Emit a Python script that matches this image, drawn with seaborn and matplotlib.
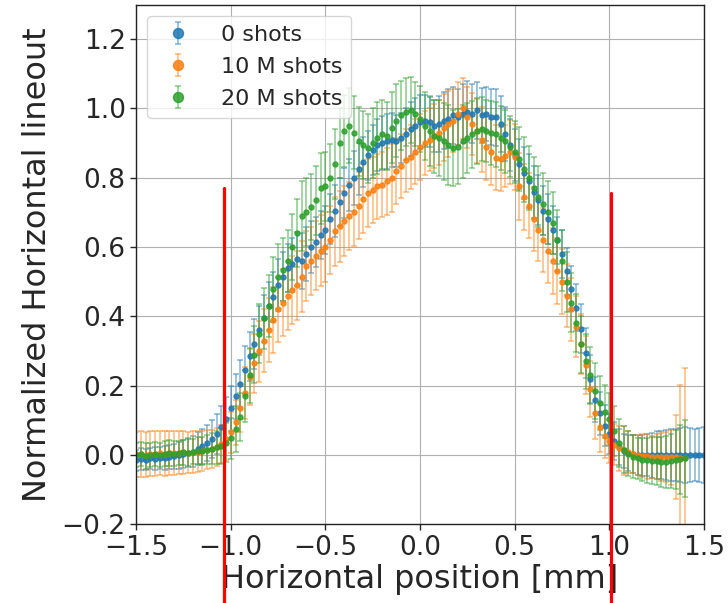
import numpy as np
import pandas as pd
import matplotlib
matplotlib.use("Agg")
import matplotlib.pyplot as plt
import seaborn as sns
from matplotlib.colors import to_rgba

# Sampling grid of the lineouts (mm)
x_start = -1.5
x_step = 0.025

series_labels = ["0 shots", "10 M shots", "20 M shots"]

# 0 shots: normalized lineout and its uncertainty (-1.5 ... 1.5 mm)
lineout_0 = [
    -0.015, -0.012, -0.014, -0.010, -0.011, -0.008, -0.009, -0.005, -0.004, -0.001,
    0.002, 0.006, 0.010, 0.018, 0.025, 0.034, 0.045, 0.060, 0.080, 0.105,
    0.135, 0.170, 0.205, 0.245, 0.285, 0.320, 0.360, 0.395, 0.430, 0.455,
    0.490, 0.515, 0.540, 0.550, 0.565, 0.560, 0.580, 0.600, 0.615, 0.635,
    0.650, 0.680, 0.705, 0.730, 0.755, 0.780, 0.800, 0.825, 0.845, 0.865,
    0.880, 0.895, 0.900, 0.905, 0.910, 0.905, 0.915, 0.925, 0.940, 0.950,
    0.960, 0.965, 0.960, 0.950, 0.955, 0.965, 0.970, 0.980, 0.975, 0.985,
    0.990, 0.985, 0.995, 0.980, 0.985, 0.975, 0.975, 0.955, 0.925, 0.895,
    0.865, 0.840, 0.815, 0.790, 0.760, 0.735, 0.705, 0.680, 0.650, 0.620,
    0.580, 0.530, 0.480, 0.425, 0.365, 0.295, 0.220, 0.160, 0.120, 0.085,
    0.060, 0.040, 0.022, 0.012, 0.006, 0.002, 0.000, -0.001, 0.000, -0.001,
    0.000, 0.000, -0.001, 0.000, 0.000, 0.000, 0.000, 0.000, 0.000, 0.000,
    0.000,
]
error_0 = [
    0.030, 0.032, 0.030, 0.031, 0.033, 0.032, 0.034, 0.035, 0.036, 0.038,
    0.040, 0.042, 0.045, 0.048, 0.050, 0.052, 0.055, 0.058, 0.060, 0.062,
    0.065, 0.065, 0.068, 0.070, 0.070, 0.072, 0.070, 0.068, 0.070, 0.072,
    0.075, 0.072, 0.070, 0.075, 0.078, 0.080, 0.078, 0.075, 0.072, 0.070,
    0.070, 0.072, 0.075, 0.070, 0.072, 0.075, 0.078, 0.075, 0.072, 0.070,
    0.072, 0.075, 0.078, 0.080, 0.078, 0.075, 0.072, 0.075, 0.078, 0.080,
    0.078, 0.075, 0.072, 0.075, 0.080, 0.082, 0.085, 0.082, 0.080, 0.085,
    0.088, 0.085, 0.082, 0.080, 0.078, 0.080, 0.082, 0.080, 0.078, 0.075,
    0.075, 0.072, 0.075, 0.078, 0.075, 0.072, 0.070, 0.072, 0.070, 0.068,
    0.070, 0.068, 0.065, 0.068, 0.070, 0.072, 0.070, 0.065, 0.062, 0.060,
    0.058, 0.055, 0.052, 0.050, 0.052, 0.055, 0.058, 0.060, 0.062, 0.065,
    0.068, 0.070, 0.072, 0.075, 0.075, 0.078, 0.080, 0.078, 0.076, 0.078,
    0.080,
]

# 10 M shots (-1.5 ... 1.4 mm)
lineout_10m = [
    0.002, 0.003, 0.001, 0.004, 0.003, 0.005, 0.004, 0.006, 0.005, 0.007,
    0.008, 0.007, 0.009, 0.010, 0.012, 0.015, 0.018, 0.024, 0.032, 0.045,
    0.065, 0.095, 0.135, 0.180, 0.225, 0.265, 0.300, 0.330, 0.360, 0.390,
    0.420, 0.440, 0.460, 0.475, 0.490, 0.515, 0.545, 0.560, 0.575, 0.590,
    0.600, 0.620, 0.645, 0.660, 0.675, 0.690, 0.700, 0.720, 0.740, 0.755,
    0.765, 0.775, 0.780, 0.790, 0.800, 0.820, 0.835, 0.850, 0.860, 0.875,
    0.890, 0.900, 0.910, 0.920, 0.930, 0.945, 0.955, 0.965, 0.985, 1.000,
    0.975, 0.955, 0.935, 0.910, 0.890, 0.875, 0.858, 0.855, 0.862, 0.875,
    0.860, 0.775, 0.745, 0.720, 0.680, 0.650, 0.620, 0.590, 0.560, 0.530,
    0.500, 0.460, 0.420, 0.370, 0.320, 0.260, 0.190, 0.120, 0.080, 0.055,
    0.040, 0.030, 0.020, 0.013, 0.008, 0.004, 0.000, -0.002, -0.004, -0.005,
    -0.005, -0.006, -0.006, -0.007, -0.006, -0.008, -0.008,
]
error_10m = [
    0.065, 0.066, 0.064, 0.066, 0.065, 0.064, 0.065, 0.063, 0.064, 0.062,
    0.062, 0.060, 0.060, 0.058, 0.058, 0.056, 0.055, 0.055, 0.056, 0.058,
    0.060, 0.065, 0.070, 0.075, 0.080, 0.085, 0.088, 0.090, 0.092, 0.095,
    0.095, 0.098, 0.100, 0.098, 0.100, 0.102, 0.100, 0.098, 0.100, 0.102,
    0.100, 0.098, 0.100, 0.102, 0.100, 0.098, 0.096, 0.098, 0.100, 0.098,
    0.096, 0.095, 0.094, 0.096, 0.098, 0.095, 0.092, 0.090, 0.092, 0.094,
    0.095, 0.092, 0.090, 0.092, 0.094, 0.096, 0.095, 0.092, 0.090, 0.088,
    0.088, 0.090, 0.092, 0.094, 0.095, 0.096, 0.094, 0.092, 0.090, 0.092,
    0.094, 0.096, 0.095, 0.094, 0.092, 0.090, 0.092, 0.094, 0.096, 0.095,
    0.094, 0.092, 0.090, 0.088, 0.086, 0.084, 0.080, 0.075, 0.070, 0.065,
    0.062, 0.060, 0.065, 0.070, 0.060, 0.055, 0.058, 0.062, 0.065, 0.060,
    0.065, 0.070, 0.072, 0.080, 0.120, 0.210, 0.260,
]

# 20 M shots (-1.5 ... 1.4 mm)
lineout_20m = [
    0.000, 0.002, -0.002, 0.001, 0.003, 0.000, 0.004, 0.005, 0.003, 0.006,
    0.008, 0.007, 0.010, 0.012, 0.011, 0.015, 0.018, 0.022, 0.026, 0.035,
    0.048, 0.075, 0.110, 0.170, 0.230, 0.290, 0.350, 0.395, 0.430, 0.480,
    0.515, 0.535, 0.560, 0.600, 0.640, 0.690, 0.700, 0.715, 0.735, 0.770,
    0.775, 0.800, 0.840, 0.900, 0.935, 0.950, 0.930, 0.905, 0.895, 0.885,
    0.900, 0.915, 0.925, 0.920, 0.945, 0.965, 0.980, 0.990, 0.995, 0.985,
    0.970, 0.950, 0.935, 0.920, 0.915, 0.905, 0.895, 0.885, 0.890, 0.905,
    0.915, 0.925, 0.935, 0.940, 0.935, 0.930, 0.925, 0.915, 0.905, 0.890,
    0.875, 0.855, 0.825, 0.800, 0.770, 0.745, 0.725, 0.700, 0.670, 0.620,
    0.560, 0.500, 0.440, 0.380, 0.320, 0.270, 0.230, 0.185, 0.150, 0.125,
    0.105, 0.070, 0.035, 0.015, 0.003, -0.005, -0.010, -0.013, -0.015, -0.017,
    -0.018, -0.020, -0.019, -0.017, -0.014, -0.012, -0.010,
]
error_20m = [
    0.036, 0.035, 0.037, 0.035, 0.034, 0.036, 0.035, 0.037, 0.036, 0.035,
    0.036, 0.038, 0.037, 0.039, 0.040, 0.042, 0.045, 0.048, 0.052, 0.056,
    0.060, 0.065, 0.070, 0.075, 0.080, 0.082, 0.085, 0.088, 0.090, 0.092,
    0.095, 0.092, 0.090, 0.095, 0.098, 0.100, 0.098, 0.095, 0.100, 0.102,
    0.100, 0.098, 0.100, 0.102, 0.105, 0.108, 0.105, 0.100, 0.098, 0.100,
    0.102, 0.105, 0.100, 0.098, 0.102, 0.105, 0.100, 0.098, 0.095, 0.092,
    0.095, 0.098, 0.102, 0.105, 0.110, 0.112, 0.115, 0.110, 0.108, 0.105,
    0.100, 0.098, 0.095, 0.092, 0.090, 0.092, 0.095, 0.092, 0.090, 0.088,
    0.090, 0.092, 0.094, 0.092, 0.090, 0.088, 0.090, 0.092, 0.090, 0.088,
    0.088, 0.086, 0.085, 0.084, 0.082, 0.080, 0.082, 0.080, 0.078, 0.076,
    0.075, 0.072, 0.070, 0.068, 0.065, 0.062, 0.060, 0.062, 0.065, 0.068,
    0.070, 0.072, 0.075, 0.078, 0.085, 0.100, 0.110,
]

# Edges of the aperture (mm) and the height of the markers
edge_positions = [-1.035, 1.01]
edge_tops = [0.771, 0.755]
edge_bottom = -0.45

x_ticks = [-1.5, -1.0, -0.5, 0.0, 0.5, 1.0, 1.5]
y_ticks = [-0.2, 0.0, 0.2, 0.4, 0.6, 0.8, 1.0, 1.2]


def make_frame(label, values, errors):
    pos = x_start + x_step * np.arange(len(values))
    return pd.DataFrame({"position": pos, "lineout": values,
                         "error": errors, "series": label})


df = pd.concat([
    make_frame(series_labels[0], lineout_0, error_0),
    make_frame(series_labels[1], lineout_10m, error_10m),
    make_frame(series_labels[2], lineout_20m, error_20m),
], ignore_index=True)

sns.set_theme(style="ticks", rc={"axes.grid": True, "grid.color": "#b0b0b0",
                                 "grid.linewidth": 0.8, "axes.edgecolor": "#222222",
                                 "axes.linewidth": 1.0})
plt.rcParams["font.family"] = ["DejaVu Sans"]
palette = sns.color_palette("tab10", 3)

fig = plt.figure(figsize=(7.28, 6.03), dpi=100)
ax = fig.add_axes([0.187, 0.1305, 0.780, 0.862])

for label, color in zip(series_labels, palette):
    sub = df[df["series"] == label]
    ax.errorbar(sub["position"], sub["lineout"], yerr=sub["error"],
                fmt="o", ms=3.6, color=to_rgba(color, 0.85),
                ecolor=to_rgba(color, 0.55),
                elinewidth=1.1, capsize=2.5, capthick=1.1, label=label)

for xe, top in zip(edge_positions, edge_tops):
    ax.plot([xe, xe], [edge_bottom, top], color="red", lw=2.3,
            clip_on=False, zorder=6)

ax.set_xlim(-1.5, 1.5)
ax.set_ylim(-0.2, 1.3)
ax.set_xticks(x_ticks)
ax.set_yticks(y_ticks)
ax.tick_params(labelsize=19, length=4, width=1)
ax.set_xlabel("Horizontal position [mm]", fontsize=23, labelpad=2)
ax.set_ylabel("Normalized Horizontal lineout", fontsize=23, labelpad=6)
ax.legend(loc="upper left", fontsize=16, markerscale=2.0, framealpha=0.8,
          labelspacing=0.55, handletextpad=0.9)

fig.savefig("out.png", dpi=100)
